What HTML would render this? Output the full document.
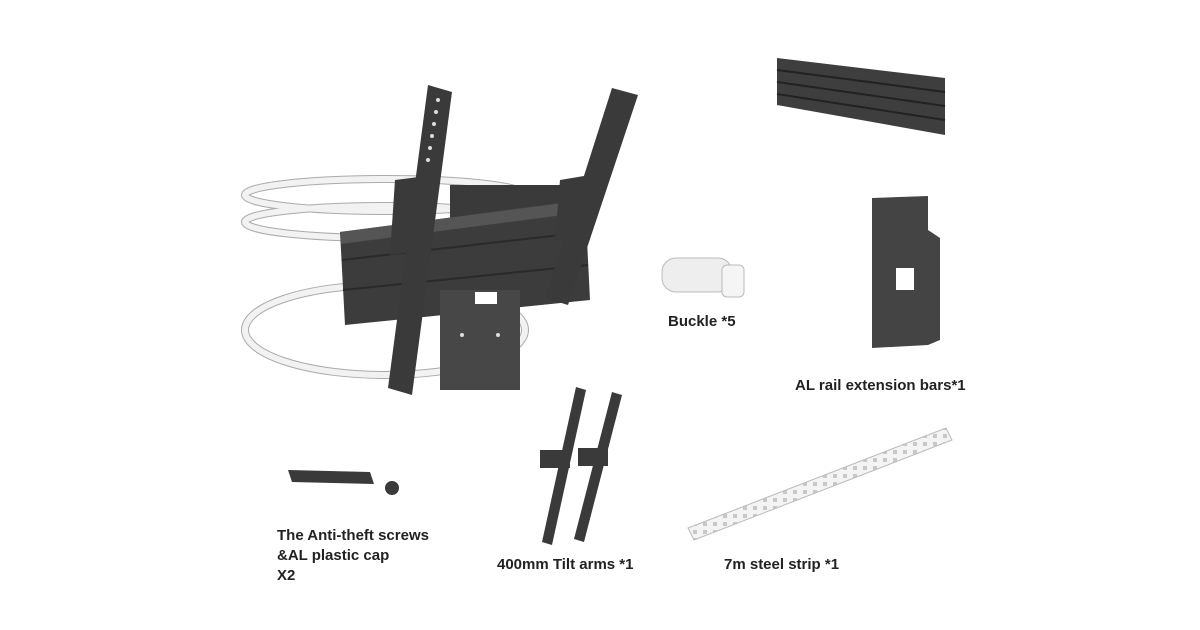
<!DOCTYPE html>
<html><head><meta charset="utf-8"><style>
html,body{margin:0;padding:0;background:#fff;}
.wrap{position:relative;width:1200px;height:630px;overflow:hidden;background:#fff;font-family:"Liberation Sans",Arial,sans-serif;}
.lbl{position:absolute;font-weight:bold;font-size:15px;color:#222;line-height:20px;white-space:nowrap;}
svg{position:absolute;left:0;top:0;}
</style></head><body><div class="wrap">
<svg width="1200" height="630" viewBox="0 0 1200 630">
<defs>
<pattern id="holes" width="10" height="8" patternUnits="userSpaceOnUse"><rect width="10" height="8" fill="#f4f4f4"/><rect x="3" y="2" width="4" height="4" fill="#c8c8c8"/></pattern>
</defs>
<g fill="none" stroke="#aaa" stroke-width="8">
<ellipse cx="385" cy="195" rx="140" ry="16"/>
<ellipse cx="385" cy="222" rx="140" ry="16"/>
<ellipse cx="385" cy="330" rx="140" ry="45"/>
</g>
<g fill="none" stroke="#f2f2f2" stroke-width="6">
<ellipse cx="385" cy="195" rx="140" ry="16"/>
<ellipse cx="385" cy="222" rx="140" ry="16"/>
<ellipse cx="385" cy="330" rx="140" ry="45"/>
</g>
<rect x="450" y="185" width="110" height="35" fill="#3a3a3a"/>
<polygon points="340,232 585,200 590,300 345,325" fill="#3c3c3c"/>
<polygon points="340,232 585,200 586,212 341,244" fill="#555"/>
<line x1="342" y1="260" x2="587" y2="232" stroke="#2a2a2a" stroke-width="2"/>
<line x1="343" y1="290" x2="588" y2="265" stroke="#2a2a2a" stroke-width="2"/>
<rect x="440" y="290" width="80" height="100" fill="#474747"/>
<rect x="475" y="292" width="22" height="12" fill="#fff"/>
<circle cx="462" cy="335" r="2" fill="#ddd"/><circle cx="498" cy="335" r="2" fill="#ddd"/>
<polygon points="428,85 452,92 412,395 388,388" fill="#3a3a3a"/>
<polygon points="395,180 435,175 430,250 390,255" fill="#3a3a3a"/>
<g fill="#ddd">
<circle cx="438" cy="100" r="2"/><circle cx="436" cy="112" r="2"/><circle cx="434" cy="124" r="2"/><circle cx="432" cy="136" r="2"/><circle cx="430" cy="148" r="2"/><circle cx="428" cy="160" r="2"/>
<circle cx="620" cy="108" r="2"/><circle cx="616" cy="120" r="2"/><circle cx="612" cy="132" r="2"/><circle cx="608" cy="144" r="2"/><circle cx="604" cy="156" r="2"/>
</g>
<polygon points="612,88 638,95 568,305 545,298" fill="#3a3a3a"/>
<polygon points="560,180 590,175 585,235 555,240" fill="#3a3a3a"/>
<polygon points="777,58 945,78 945,135 777,105" fill="#3e3e3e"/>
<line x1="777" y1="70" x2="945" y2="92" stroke="#222" stroke-width="2"/>
<line x1="777" y1="82" x2="945" y2="106" stroke="#222" stroke-width="2"/>
<line x1="777" y1="94" x2="945" y2="120" stroke="#222" stroke-width="2"/>
<rect x="662" y="258" width="70" height="34" rx="14" fill="#eee" stroke="#bbb"/>
<rect x="722" y="265" width="22" height="32" rx="5" fill="#f5f5f5" stroke="#bbb"/>
<polygon points="872,198 928,196 928,230 940,238 940,340 928,345 872,348" fill="#444"/>
<rect x="896" y="268" width="18" height="22" fill="#fff"/>
<polygon points="688,528 946,428 952,440 694,540" fill="url(#holes)" stroke="#bbb"/>
<polygon points="288,470 370,472 374,484 292,482" fill="#3a3a3a"/>
<circle cx="392" cy="488" r="7" fill="#3a3a3a"/>
<polygon points="576,387 586,390 552,545 542,542" fill="#3a3a3a"/>
<polygon points="612,392 622,395 584,542 574,539" fill="#3a3a3a"/>
<rect x="540" y="450" width="30" height="18" fill="#3a3a3a"/>
<rect x="578" y="448" width="30" height="18" fill="#3a3a3a"/>
</svg>
<div class="lbl" style="left:668px;top:312px;">Buckle *5</div>
<div class="lbl" style="left:795px;top:376px;">AL rail extension bars*1</div>
<div class="lbl" style="left:277px;top:526px;">The Anti-theft screws<br>&amp;AL plastic cap<br>X2</div>
<div class="lbl" style="left:497px;top:555px;">400mm Tilt arms *1</div>
<div class="lbl" style="left:724px;top:555px;">7m steel strip *1</div>
</div></body></html>
